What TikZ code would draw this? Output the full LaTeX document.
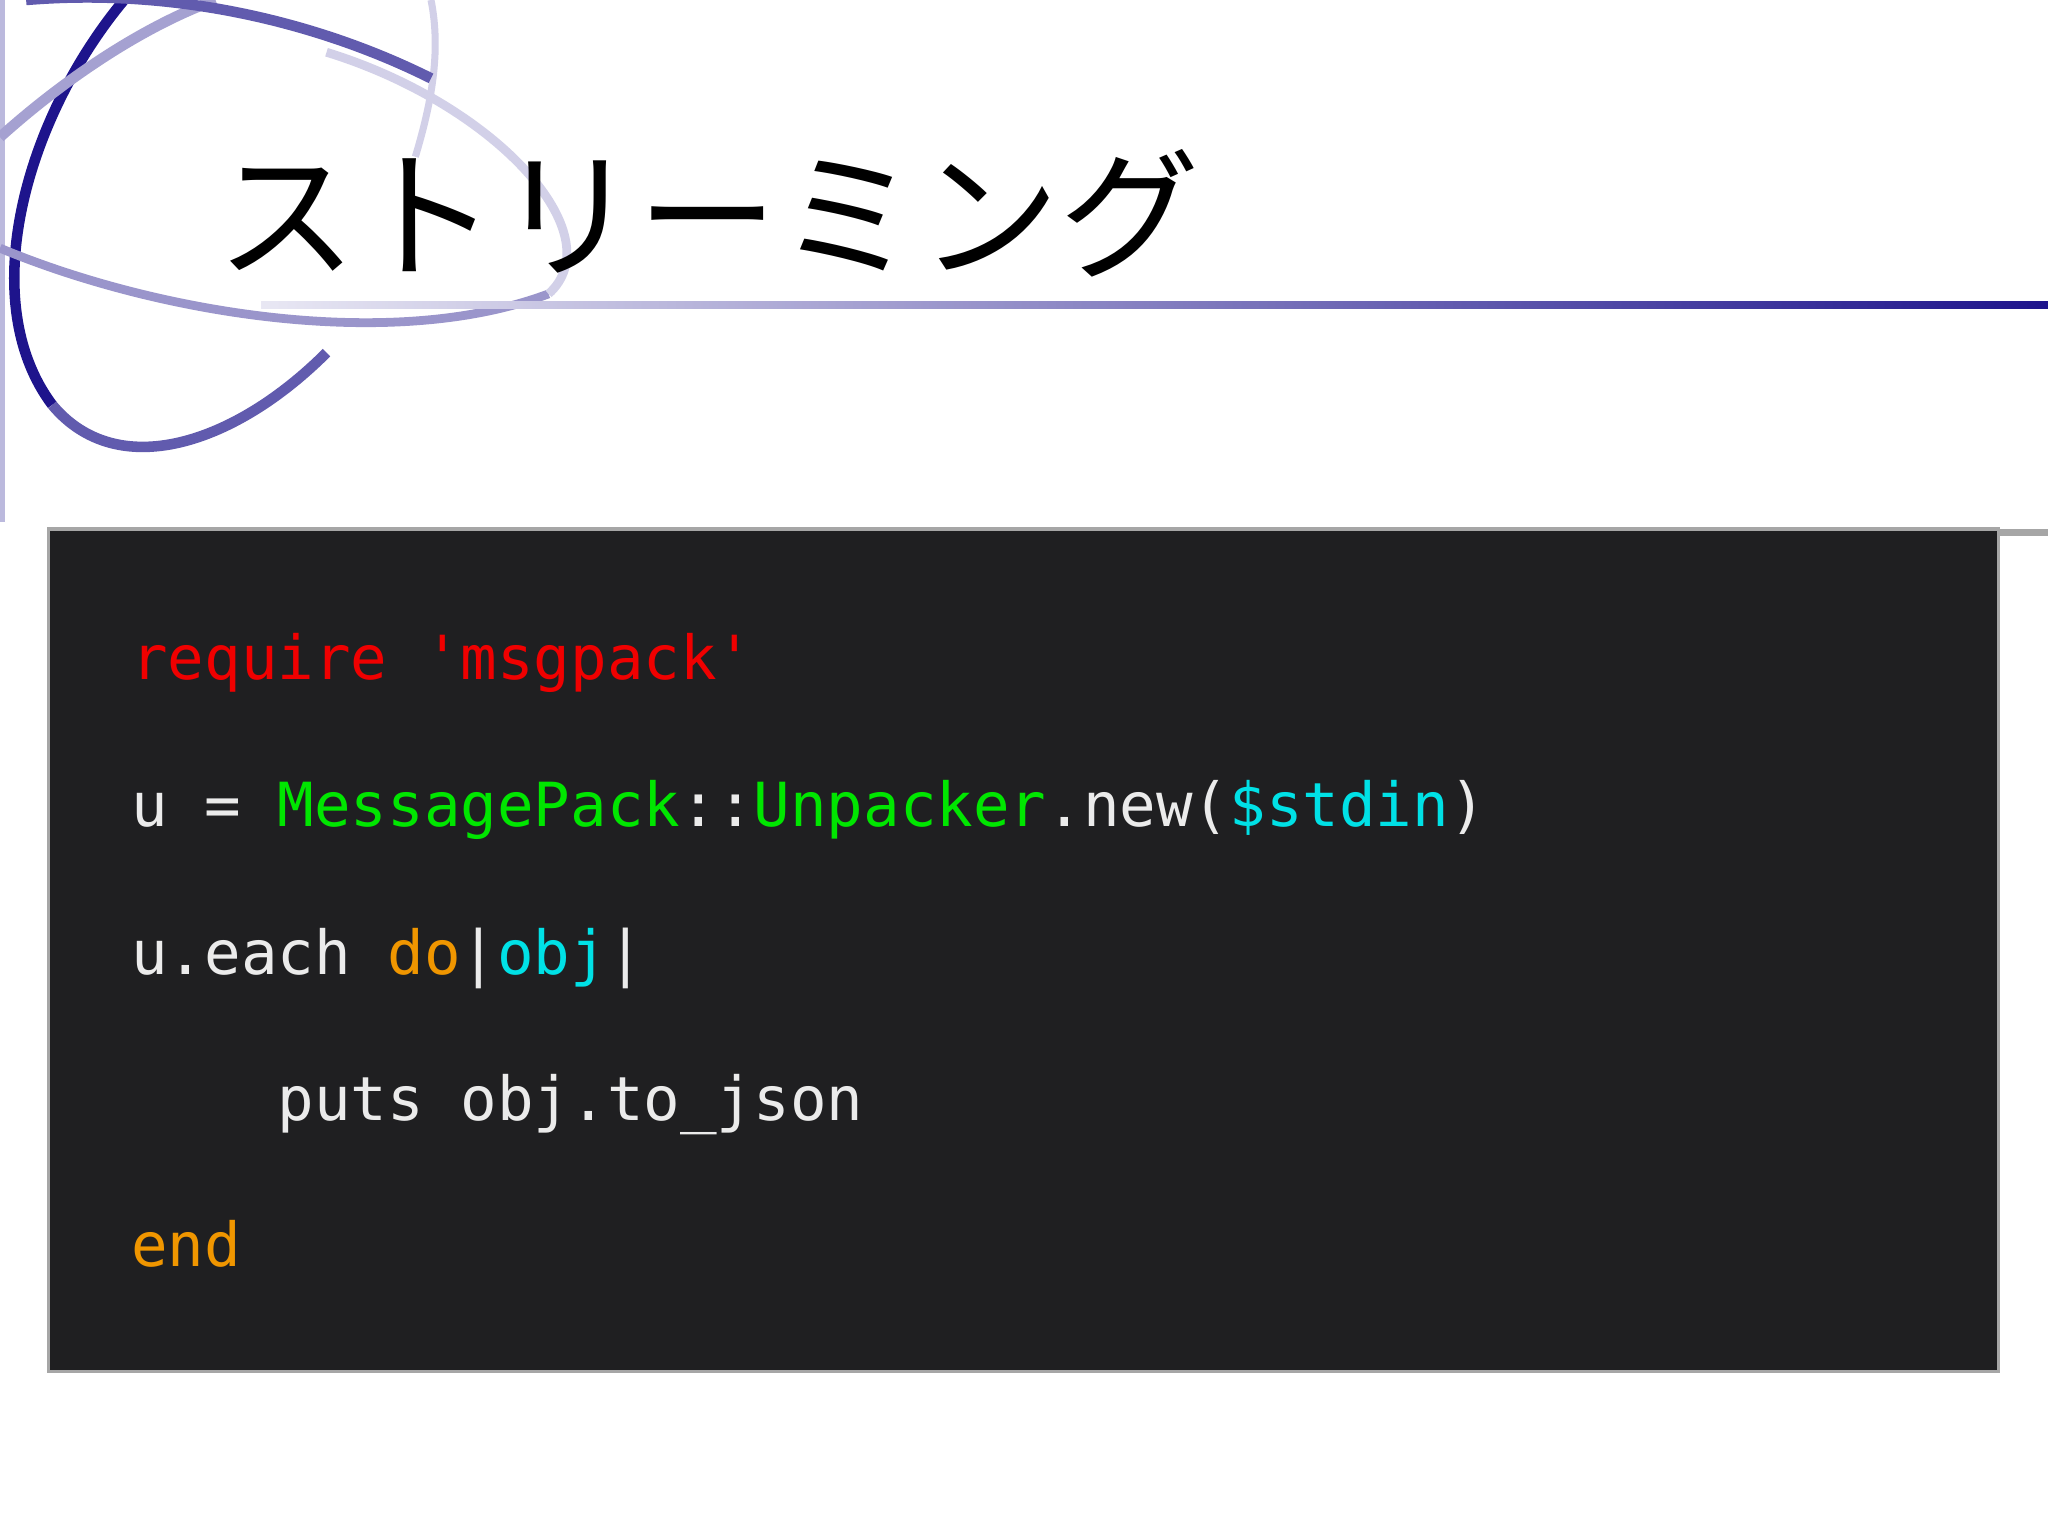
\documentclass[tikz,border=0pt]{standalone}
\usepackage{fontspec}
\newfontfamily\cjk{Noto Sans CJK JP}
\setmonofont{DejaVu Sans Mono}
\definecolor{navy}{RGB}{30,20,140}
\definecolor{codebg}{RGB}{31,31,33}
\definecolor{cred}{RGB}{240,0,0}
\definecolor{cgreen}{RGB}{0,230,0}
\definecolor{ccyan}{RGB}{0,225,230}
\definecolor{corange}{RGB}{240,150,0}
\definecolor{cwhite}{RGB}{235,235,235}
\tikzset{code/.style={anchor=base west,inner sep=0pt,font=\ttfamily\fontsize{17.3}{20}\selectfont,text=cwhite}}
\begin{document}
\begin{tikzpicture}[x=0.01306cm,y=-0.01306cm]
\useasboundingbox (0,0) rectangle (1568,1176);
\fill[white] (0,0) rectangle (1568,1176);
% decorative curves
\draw[navy!30,line width=1.5pt] (2,0) -- (2,400);
\draw[navy!20,line width=2pt] (330,0) .. controls (338,40) and (330,80) .. (318,120);
\draw[navy,line width=3pt] (95,0) .. controls (20,90) and (-20,230) .. (40,310);
\draw[navy!70,line width=3pt] (40,310) .. controls (90,370) and (180,340) .. (250,270);
\draw[navy!40,line width=3pt] (0,105) .. controls (50,60) and (110,20) .. (165,0);
\draw[navy!45,line width=2.5pt] (0,190) .. controls (120,240) and (300,270) .. (420,225);
\draw[navy!20,line width=2.5pt] (420,225) .. controls (470,180) and (380,80) .. (250,40);
\draw[navy!70,line width=3pt] (20,0) .. controls (140,-10) and (250,20) .. (330,60);
% title
\node[anchor=base west,inner sep=0pt,font=\cjk\fontsize{40}{44}\selectfont] (title) at (165,205) {ストリーミング};
\shade[left color=navy!10,right color=navy] (200,231) rectangle (1568,236);
% code box
\node[draw=gray!70,line width=1pt,fill=codebg,minimum width=1493\pgflinewidth,inner sep=0pt,anchor=north west] (box) at (37,405) {};
\fill[codebg,draw=gray!70,line width=1pt] (37,405) rectangle (1530,1050);
\node[code] (l1) at (100,520) {\color{cred}require 'msgpack'};
\node[code] (l2) at (100,633) {u = \color{cgreen}MessagePack\color{cwhite}::\color{cgreen}Unpacker\color{cwhite}.new(\color{ccyan}\$stdin\color{cwhite})};
\node[code] (l3) at (100,746) {u.each \color{corange}do\color{cwhite} |\color{ccyan}obj\color{cwhite}|};
\node[code] (l4) at (212,858) {puts obj.to\_json};
\node[code] (l5) at (100,970) {\color{corange}end};
\end{tikzpicture}
\end{document}
